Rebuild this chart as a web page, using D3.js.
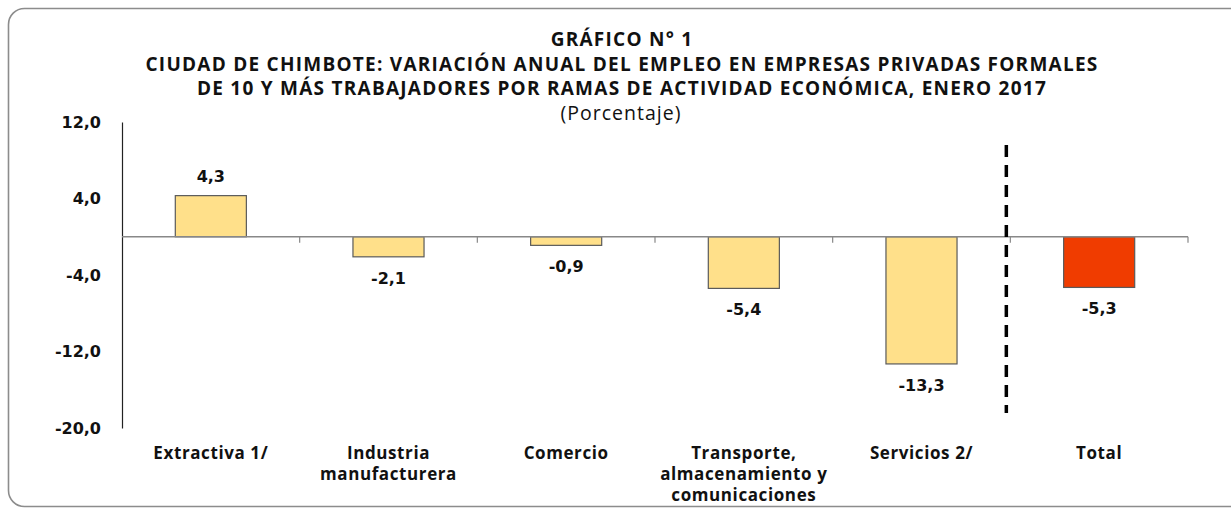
<!DOCTYPE html>
<html>
<head>
<meta charset="utf-8">
<script src="https://cdn.jsdelivr.net/npm/d3@7"></script>
<style>
  html, body { margin: 0; padding: 0; background: #fff; }
  svg { display: block; }
  .ttl { font-family: "Open Sans", Lato, sans-serif; font-weight: 700; fill: #111; letter-spacing: 1.25px; }
  .tick text { font-family: "DejaVu Sans", Verdana, sans-serif; font-weight: 700; font-size: 16px; fill: #111; }
</style>
</head>
<body>
<div id="chart"></div>
<script>
// Variación anual del empleo, Chimbote, enero 2017
const categories = ["Extractiva 1/", "Industria\nmanufacturera", "Comercio",
  "Transporte,\nalmacenamiento y\ncomunicaciones", "Servicios 2/", "Total"];
const values = [4.3, -2.1, -0.9, -5.4, -13.3, -5.3];
const labels = ["4,3", "-2,1", "-0,9", "-5,4", "-13,3", "-5,3"];
const yTicks = [12, 4, -4, -12, -20];
const titleLines = ["GRÁFICO N° 1",
  "CIUDAD DE CHIMBOTE: VARIACIÓN ANUAL DEL EMPLEO EN EMPRESAS PRIVADAS FORMALES",
  "DE 10 Y MÁS TRABAJADORES POR RAMAS DE ACTIVIDAD ECONÓMICA, ENERO 2017"];

const width = 1231, height = 508;
const margin = { top: 122, right: 43, bottom: 80, left: 122 };
const svg = d3.select("#chart").append("svg").attr("width", width).attr("height", height);

// frame
svg.append("rect").attr("x", 8.5).attr("y", 8.5).attr("width", 1240).attr("height", 498)
  .attr("rx", 16).attr("fill", "none").attr("stroke", "#8c8c8c").attr("stroke-width", 1.6);

// titles
titleLines.forEach((t, i) => {
  svg.append("text").attr("class", "ttl").attr("x", 622).attr("y", 46 + i * 24.5)
    .attr("text-anchor", "middle").attr("font-size", 19).text(t);
});
svg.append("text").attr("x", 621).attr("y", 120).attr("text-anchor", "middle")
  .attr("font-family", "'Open Sans', Lato, sans-serif").attr("font-size", 19.5)
  .attr("letter-spacing", "1px").attr("fill", "#111")
  .text("(Porcentaje)");

const x = d3.scaleBand().domain(categories).range([margin.left, width - margin.right]);
const y = d3.scaleLinear().domain([-20, 12]).range([height - margin.bottom, margin.top]);

// y axis
const yAx = svg.append("g").attr("transform", `translate(${margin.left},0)`)
  .call(d3.axisLeft(y).tickValues(yTicks).tickSize(0).tickPadding(21)
    .tickFormat(d => (d < 0 ? "-" : "") + Math.abs(d).toFixed(1).replace(".", ",")));
yAx.select(".domain").attr("stroke", "#222").attr("stroke-width", 1.2);

// bars
svg.selectAll(".bar").data(values).join("rect")
  .attr("x", (d, i) => x(categories[i]) + x.bandwidth() * 0.3)
  .attr("width", x.bandwidth() * 0.4)
  .attr("y", d => y(Math.max(0, d)))
  .attr("height", d => Math.abs(y(d) - y(0)))
  .attr("fill", (d, i) => i === values.length - 1 ? "#F03C00" : "#FFE08A")
  .attr("stroke", "#5a5a5a").attr("stroke-width", 1.2);

// x axis along zero with boundary ticks
svg.append("line").attr("x1", margin.left).attr("x2", width - margin.right)
  .attr("y1", y(0)).attr("y2", y(0)).attr("stroke", "#888").attr("stroke-width", 1.6);
d3.range(1, categories.length + 1).forEach(k => {
  const bx = margin.left + k * x.step();
  svg.append("line").attr("x1", bx).attr("x2", bx).attr("y1", y(0)).attr("y2", y(0) + 6)
    .attr("stroke", "#888").attr("stroke-width", 1.2);
});

// value labels
svg.selectAll(".vl").data(values).join("text")
  .attr("x", (d, i) => x(categories[i]) + x.bandwidth() / 2)
  .attr("y", d => d >= 0 ? y(d) - 14 : y(d) + 27)
  .attr("text-anchor", "middle")
  .attr("font-family", "'DejaVu Sans', Verdana, sans-serif").attr("font-weight", 700)
  .attr("font-size", 16).attr("fill", "#111")
  .text((d, i) => labels[i]);

// category labels
categories.forEach(c => {
  const t = svg.append("text").attr("text-anchor", "middle")
    .attr("font-family", "'Open Sans', Lato, sans-serif").attr("font-weight", 700)
    .attr("font-size", 17).attr("letter-spacing", "0.6px").attr("fill", "#111");
  c.split("\n").forEach((ln, j) => {
    t.append("tspan").attr("x", x(c) + x.bandwidth() / 2).attr("y", 459 + j * 21).text(ln);
  });
});

// dashed separator before Total
const sepX = x("Total") - 4;
svg.append("line").attr("x1", sepX).attr("x2", sepX).attr("y1", 145).attr("y2", 413)
  .attr("stroke", "#000").attr("stroke-width", 3.5).attr("stroke-dasharray", "12,8");
</script>
</body>
</html>
